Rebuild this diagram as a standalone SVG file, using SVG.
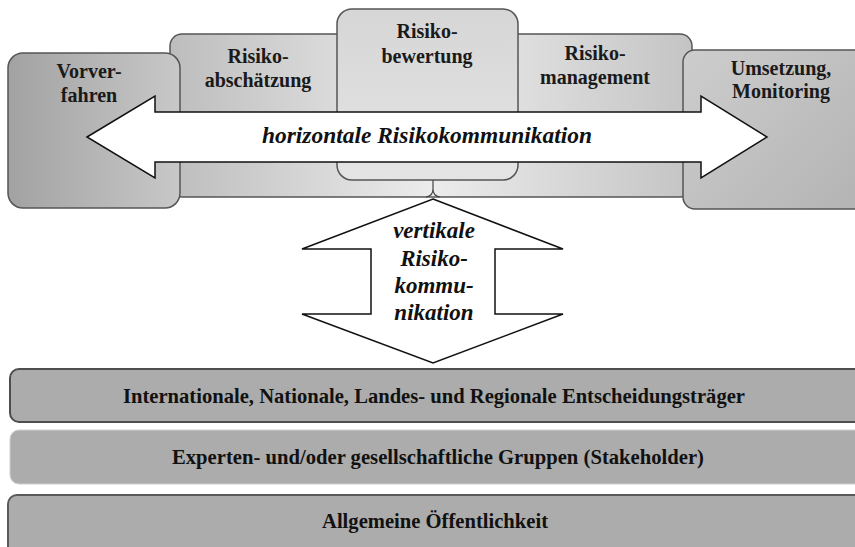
<svg xmlns="http://www.w3.org/2000/svg" width="855" height="547" viewBox="0 0 855 547">
<defs>
<linearGradient id="gVor" gradientUnits="userSpaceOnUse" x1="8" y1="0" x2="180" y2="0">
<stop offset="0" stop-color="#a2a2a2"/><stop offset="1" stop-color="#c8c8c8"/>
</linearGradient>
<linearGradient id="gBand" gradientUnits="userSpaceOnUse" x1="170" y1="0" x2="692" y2="0">
<stop offset="0" stop-color="#bdbdbd"/><stop offset="0.5" stop-color="#ececec"/><stop offset="1" stop-color="#c4c4c4"/>
</linearGradient>
<linearGradient id="gBew" gradientUnits="userSpaceOnUse" x1="0" y1="9" x2="0" y2="180">
<stop offset="0" stop-color="#d6d6d6"/><stop offset="1" stop-color="#e4e4e4"/>
</linearGradient>
<linearGradient id="gUms" gradientUnits="userSpaceOnUse" x1="683" y1="50" x2="855" y2="209">
<stop offset="0" stop-color="#cdcdcd"/><stop offset="1" stop-color="#b4b4b4"/>
</linearGradient>
</defs>
<style>
.box{stroke:#555;stroke-width:1.5}
.lbl{font-family:"Liberation Serif","Times New Roman",serif;font-weight:bold;font-size:20px;fill:#1a1a1a;text-anchor:middle}
.arr{fill:#fff;stroke:#111;stroke-width:1.5;stroke-linejoin:miter}
.atxt{font-family:"Liberation Serif","Times New Roman",serif;font-weight:bold;font-style:italic;font-size:23px;fill:#111;text-anchor:middle}
.bar{fill:#acacac}
.btxt{font-family:"Liberation Serif","Times New Roman",serif;font-weight:bold;font-size:22px;fill:#111;text-anchor:middle}
</style>
<rect width="855" height="547" fill="#fff"/>

<g id="band">
<rect class="box" x="170" y="34" width="522" height="163" rx="12" fill="url(#gBand)"/>
</g>
<g id="risikoabschaetzung">
<text class="lbl" x="258" y="63">Risiko-</text>
<text class="lbl" x="258" y="87">abschätzung</text>
</g>
<g id="risikomanagement">
<text class="lbl" x="595" y="60">Risiko-</text>
<text class="lbl" x="595" y="84">management</text>
</g>
<g id="risikobewertung">
<rect class="box" x="337" y="9" width="181" height="171" rx="15" fill="url(#gBew)"/>
<text class="lbl" x="427" y="38">Risiko-</text>
<text class="lbl" x="427" y="63">bewertung</text>
</g>
<g id="vorverfahren">
<rect class="box" x="8" y="53" width="172" height="155" rx="15" fill="url(#gVor)"/>
<text class="lbl" x="89" y="78">Vorver-</text>
<text class="lbl" x="89" y="102">fahren</text>
</g>
<g id="umsetzung">
<rect class="box" x="683" y="50" width="190" height="159" rx="12" fill="url(#gUms)"/>
<text class="lbl" x="781" y="75">Umsetzung,</text>
<text class="lbl" x="781" y="98">Monitoring</text>
</g>

<g id="connectors">
<path d="M433,180 V189 Q433,196 426,197 M433,189 Q433,196 440,197" fill="none" stroke="#444" stroke-width="1.2"/>
<g id="horizontal-arrow">
<polygon class="arr" points="87,137 155,96 155,112 701,112 701,96 767,137 701,178 701,162 155,162 155,178"/>
<text class="atxt" x="427" y="143" textLength="330" lengthAdjust="spacingAndGlyphs">horizontale Risikokommunikation</text>
</g>
<g id="vertical-arrow">
<polygon class="arr" points="433,199 563,249 495,249 495,314 563,314 433,363 302,314 371,314 371,249 302,249"/>
<text class="atxt" x="434" y="238">vertikale</text>
<text class="atxt" x="434" y="266">Risiko-</text>
<text class="atxt" x="434" y="293">kommu-</text>
<text class="atxt" x="434" y="320">nikation</text>
</g>
</g>

<g id="entscheidungstraeger">
<rect class="bar" x="10" y="369" width="870" height="53" rx="9" stroke="#4e4e4e" stroke-width="2"/>
<text class="btxt" x="434" y="403" textLength="622" lengthAdjust="spacingAndGlyphs">Internationale, Nationale, Landes- und Regionale Entscheidungsträger</text>
</g>
<g id="stakeholder">
<rect class="bar" x="10" y="430" width="870" height="54" rx="9" stroke="#cfcfcf" stroke-width="1"/>
<text class="btxt" x="438" y="464" textLength="532" lengthAdjust="spacingAndGlyphs">Experten- und/oder gesellschaftliche Gruppen (Stakeholder)</text>
</g>
<g id="oeffentlichkeit">
<rect class="bar" x="8" y="495" width="870" height="70" rx="9" stroke="#5a5a5a" stroke-width="2"/>
<text class="btxt" x="435" y="528" textLength="226" lengthAdjust="spacingAndGlyphs">Allgemeine Öffentlichkeit</text>
</g>
</svg>
